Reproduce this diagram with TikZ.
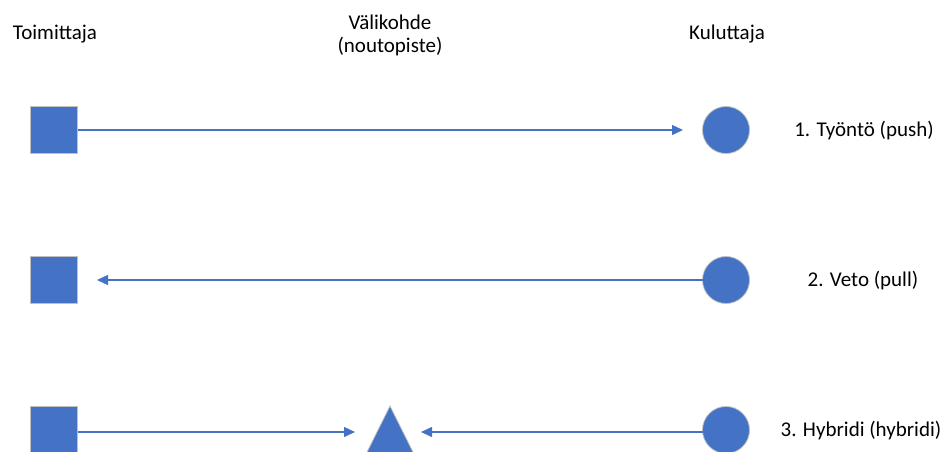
\documentclass[tikz,border=0pt]{standalone}
\usepackage{fontspec}
\setmainfont{Carlito}
\usetikzlibrary{arrows.meta,shapes.geometric}
\definecolor{officeblue}{HTML}{4472C4}
\definecolor{shapeedge}{HTML}{C0C0C0}
\begin{document}
\begin{tikzpicture}[x=1pt,y=-1pt,
  party/.style={fill=officeblue,draw=shapeedge,line width=0.8pt,inner sep=0pt,outer sep=0pt},
  supplier/.style={party,rectangle,minimum width=47pt,minimum height=47pt},
  consumer/.style={party,circle,minimum size=47pt},
  pickup/.style={party,isosceles triangle,shape border rotate=90,isosceles triangle apex angle=53,minimum height=50pt,isosceles triangle stretches=false},
  flow/.style={draw=officeblue,line width=1.3pt,-{Triangle[length=11pt,width=10pt]}},
  heading/.style={font=\fontsize{21}{23}\selectfont,align=center,inner sep=0pt},
  caption/.style={font=\fontsize{21}{23}\selectfont,inner sep=0pt}]
\useasboundingbox (0,0) rectangle (943,451);
\clip (0,0) rectangle (943,451);

% column headings
\node[heading] (hsup) at (55,34) {Toimittaja};
\node[heading] (hmid) at (390,35) {Välikohde\\(noutopiste)};
\node[heading] (hcon) at (727,34) {Kuluttaja};

% 1. push
\node[supplier] (s1) at (54,130) {};
\node[consumer] (c1) at (726,130) {};
\coordinate (t1) at (683,130);
\draw[flow] (s1.east) -- (t1);
\node[caption] (l1) at (864,131) {1. Työntö (push)};

% 2. pull
\node[supplier] (s2) at (54,280) {};
\node[consumer] (c2) at (726,280) {};
\coordinate (t2) at (97,280);
\draw[flow] (c2.west) -- (t2);
\node[caption] (l2) at (863,281) {2. Veto (pull)};

% 3. hybrid
\node[supplier] (s3) at (54,430) {};
\node[pickup,anchor=apex] (p3) at (390,406) {};
\node[consumer] (c3) at (726,430) {};
\coordinate (t3a) at (355,432);
\coordinate (t3b) at (421,432);
\draw[flow] (s3.east |- t3a) -- (t3a);
\draw[flow] (c3.west |- t3b) -- (t3b);
\node[caption] (l3) at (861,431) {3. Hybridi (hybridi)};
\end{tikzpicture}
\end{document}
